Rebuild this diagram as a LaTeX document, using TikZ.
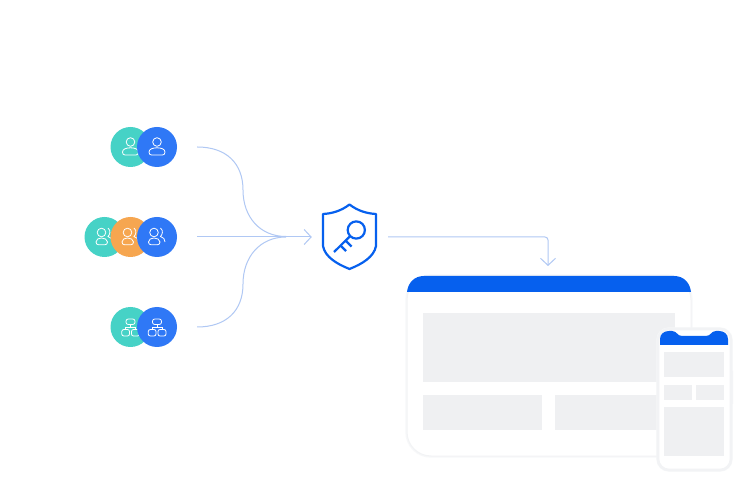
\documentclass[tikz,border=0pt]{standalone}
\usepackage{xcolor}
\usetikzlibrary{arrows.meta,positioning}
\definecolor{tealc}{HTML}{46D2C6}
\definecolor{bluec}{HTML}{2F78F6}
\definecolor{orangec}{HTML}{F6A650}
\definecolor{deepblue}{HTML}{0660EE}
\definecolor{linkc}{HTML}{B0C8F4}
\definecolor{panelc}{HTML}{EFF0F2}
\definecolor{edgec}{HTML}{F2F3F5}
\tikzset{
    personicon/.pic={
        \draw[icon] (0,-5) circle (4.3);
        \draw[icon] (-8,5) .. controls (-8,2) and (-4,0.8) .. (0,0.8) .. controls (4,0.8) and (8,2) .. (8,5) .. controls (8,7) and (7,8) .. (5.5,8) -- (-5.5,8) .. controls (-7,8) and (-8,7) .. (-8,5) -- cycle;
    },
    groupicon/.pic={
        \draw[icon] (-3,-4.5) circle (4.3);
        \draw[icon] (-8.5,5) .. controls (-8.5,2.4) and (-6,1) .. (-3,1) .. controls (0,1) and (3,2.4) .. (3,5) .. controls (3,6.8) and (2,7.7) .. (0.5,7.7) -- (-6,7.7) .. controls (-7.5,7.7) and (-8.5,6.8) .. (-8.5,5) -- cycle;
        \draw[icon] (3.5,-9) .. controls (7,-6) and (5,-2) .. (3.5,-0.5) .. controls (6.5,0.5) and (8,2) .. (8,5);
    },
    orgicon/.pic={
        \draw[icon, rounded corners=2.2] (-4.5,-8) rectangle (4.5,-2.5);
        \draw[icon, rounded corners=2] (-8.7,2.5) rectangle (-1,9);
        \draw[icon, rounded corners=2] (1,2.5) rectangle (9,9);
        \draw[icon] (0,-2.5) -- (0,0) (-5,2.5) -- (-5,0) -- (5,0) -- (5,2.5);
    },
}
\begin{document}
\begin{tikzpicture}[
    x=1pt, y=-1pt,
    badge/.style={circle, minimum size=40pt, inner sep=0pt},
    icon/.style={draw=white, line width=0.8pt},
    link/.style={draw=linkc, line width=1pt},
    linkarrow/.style={link, -{Straight Barb[length=7pt, width=15pt]}},
    panel/.style={fill=panelc},
    shieldline/.style={draw=deepblue, line width=2.2pt},
    device/.style={inner sep=0pt, fill=white, draw=edgec, preaction={draw=edgec!60, line width=3.4pt}},
]
    \useasboundingbox[fill=white] (0,0) rectangle (747,502);

    % left badges
    \node[badge, fill=tealc] (teal1) at (130.5,147) {};
    \pic at (teal1) {personicon};
    \node[badge, fill=bluec] (blue1) at (157,147) {};
    \pic at (blue1) {personicon};

    \node[badge, fill=tealc] (teal2) at (104.5,237) {};
    \pic at (teal2) {groupicon};
    \node[badge, fill=orangec] (orange2) at (130.5,237) {};
    \pic at (orange2) {groupicon};
    \node[badge, fill=bluec] (blue2) at (157,237) {};
    \pic at (blue2) {groupicon};

    \node[badge, fill=tealc] (teal3) at (130.5,327) {};
    \pic at (teal3) {orgicon};
    \node[badge, fill=bluec] (blue3) at (157,327) {};
    \pic at (blue3) {orgicon};

    \coordinate[right=20pt of blue1] (start1);
    \coordinate[right=20pt of blue2] (start2);
    \coordinate[right=20pt of blue3] (start3);

    % shield
    \node[minimum width=76pt, minimum height=70pt, inner sep=0pt] (shield) at (350,237) {};
    \draw[shieldline, line join=round] (349.5,204.5) .. controls (341,211) and (332,213.5) .. (323,214) -- (323,246) .. controls (325,257) and (337,264) .. (349.5,269) .. controls (362,264) and (374,257) .. (376,246) -- (376,214) .. controls (367,213.5) and (358,211) .. (349.5,204.5) -- cycle;
    \draw[shieldline] (356.3,230) circle (8.6);
    \draw[shieldline] (350,236.3) -- (334,252);
    \draw[shieldline] (340.5,245.5) -- (346,251) (345.5,240.5) -- (351.5,246.5);

    % window
    \node[device, minimum width=284pt, minimum height=180pt, rounded corners=24pt, line width=1pt] (window) at (549,366) {};
    \fill[deepblue] (407,292) .. controls (408,283) and (414,276) .. (424,276) -- (674,276) .. controls (684,276) and (690,283) .. (691,292) -- cycle;
    \fill[panel] (423,313) rectangle (675,382);
    \fill[panel] (423,395) rectangle (542,430);
    \fill[panel] (555,395) rectangle (675,430);
    \coordinate (drop) at (548,266);

    % phone
    \fill[edgec] (655.8,354) rectangle (658,366) (655.8,368) rectangle (658,380) (731,371) rectangle (733,404);
    \node[device, minimum width=73pt, minimum height=141pt, rounded corners=11pt, line width=2.6pt] (phone) at (694.5,399.5) {};
    \fill[deepblue] (660,345) -- (660,339) .. controls (660,334) and (664,331) .. (669,331) -- (672,331) .. controls (677,331) and (677,336) .. (682,336) -- (706,336) .. controls (711,336) and (711,331) .. (716,331) -- (719,331) .. controls (724,331) and (728,334) .. (728,339) -- (728,345) -- cycle;
    \fill[white] (687,333.2) rectangle (696,334.2);
    \fill[panel] (664,352) rectangle (724,377);
    \fill[panel] (664,385) rectangle (692,400);
    \fill[panel] (696,385) rectangle (724,400);
    \fill[panel] (664,407) rectangle (724,456);

    % connectors
    \draw[link] (start1) .. controls (226,147) and (243,163) .. (243,190) .. controls (243,217) and (260,236.5) .. (286,236.5);
    \draw[link] (start3) .. controls (226,327) and (243,311) .. (243,284) .. controls (243,257) and (260,237) .. (286,237);
    \draw[linkarrow] (start2) -- (shield.west);
    \draw[linkarrow, rounded corners=3pt] (shield.east) -| (drop);
\end{tikzpicture}
\end{document}
